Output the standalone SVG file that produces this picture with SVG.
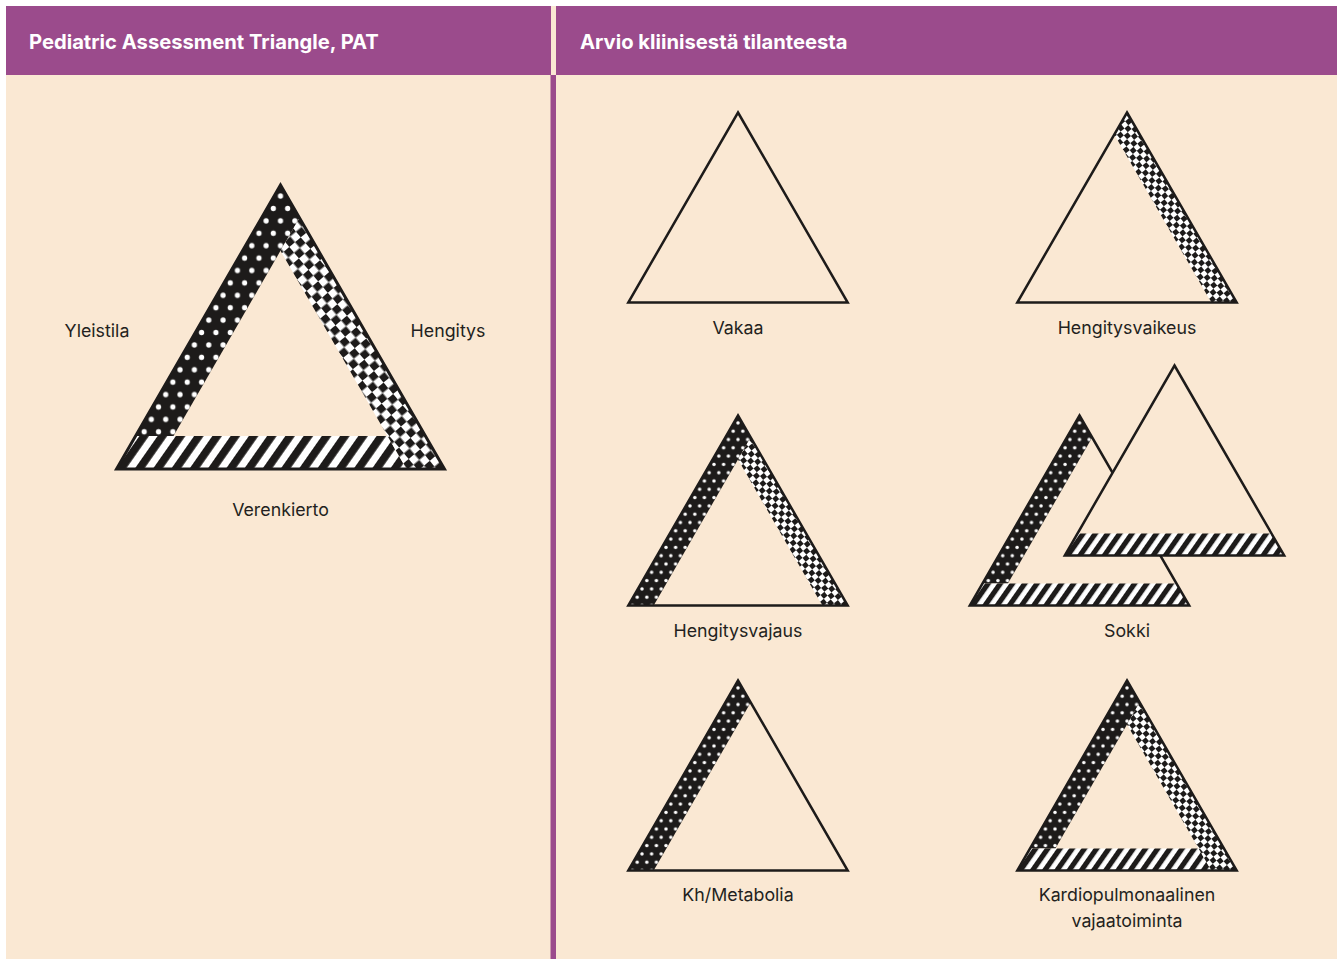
<svg xmlns="http://www.w3.org/2000/svg" width="1344" height="959" viewBox="0 0 1344 959">
<style>
.hdr{font-family:Inter,"Liberation Sans",sans-serif;font-weight:700;font-size:20.2px;fill:#ffffff}
.lbl{font-family:Inter,"Liberation Sans",sans-serif;font-size:17.8px;fill:#231f20;text-anchor:middle}
.outline{fill:none;stroke:#1d1b1a;stroke-width:2.5;stroke-linejoin:miter}
.big .outline{stroke-width:2}
.dots{fill:url(#pDots)}
.chk{fill:url(#pChk)}
.str{fill:url(#pStr)}
</style>
<defs>
<pattern id="pDots" patternUnits="userSpaceOnUse" width="9.6" height="16.6">
<rect width="9.6" height="16.6" fill="#1d1b1a"/>
<circle cx="0" cy="0" r="1.75" fill="#fff"/><circle cx="9.6" cy="0" r="1.75" fill="#fff"/>
<circle cx="0" cy="16.6" r="1.75" fill="#fff"/><circle cx="9.6" cy="16.6" r="1.75" fill="#fff"/>
<circle cx="4.8" cy="8.3" r="1.75" fill="#fff"/>
</pattern>
<pattern id="pChk" patternUnits="userSpaceOnUse" width="10" height="10" patternTransform="rotate(50)">
<rect width="10" height="10" fill="#fff"/>
<rect width="5" height="5" fill="#1d1b1a"/><rect x="5" y="5" width="5" height="5" fill="#1d1b1a"/>
</pattern>
<pattern id="pStr" patternUnits="userSpaceOnUse" width="10" height="10" patternTransform="rotate(35)">
<rect width="10" height="10" fill="#fff"/>
<rect width="5.2" height="10" fill="#1d1b1a"/>
</pattern>
</defs>
<rect width="1344" height="959" fill="#ffffff"/>
<rect x="6" y="6" width="1331" height="953" fill="#fae8d3"/>
<rect x="6" y="6" width="545" height="69" fill="#9b4b8c"/>
<rect x="556" y="6" width="781" height="69" fill="#9b4b8c"/>
<rect x="550.5" y="75" width="5.5" height="884" fill="#9b4b8c"/>
<text class="hdr" x="29" y="49">Pediatric Assessment Triangle, PAT</text>
<text class="hdr" x="580" y="49">Arvio kliinisestä tilanteesta</text>

<g id="pat" class="big" transform="translate(280.5,469) scale(1.4947)">
<polygon class="dots" points="-97,-22 0,-190 12.7,-168 0,-146 -71.6,-22"/>
<polygon class="str" points="-109.7,0 -97,-22 71.6,-22 84.3,0"/>
<polygon class="chk" points="12.7,-168 109.7,0 84.3,0 71.6,-22 0,-146"/>
<polygon class="outline" points="0,-190 109.7,0 -109.7,0"/>
</g>
<text class="lbl" x="97" y="337">Yleistila</text>
<text class="lbl" x="448" y="337">Hengitys</text>
<text class="lbl" x="280.5" y="516">Verenkierto</text>

<g id="vakaa" transform="translate(738,302.5)">
<polygon class="outline" points="0,-190 109.7,0 -109.7,0"/>
</g>
<text class="lbl" x="738" y="334">Vakaa</text>

<g id="hengitysvaikeus" transform="translate(1127,302.5)">
<polygon class="chk" points="-12.7,-168 0,-190 109.7,0 84.3,0"/>
<polygon class="outline" points="0,-190 109.7,0 -109.7,0"/>
</g>
<text class="lbl" x="1127" y="334">Hengitysvaikeus</text>

<g id="hengitysvajaus" transform="translate(738,605.5)">
<polygon class="dots" points="-109.7,0 0,-190 12.7,-168 -84.3,0"/>
<polygon class="chk" points="12.7,-168 109.7,0 84.3,0 0,-146"/>
<polygon class="outline" points="0,-190 109.7,0 -109.7,0"/>
</g>
<text class="lbl" x="738" y="637">Hengitysvajaus</text>

<g id="sokki">
<g transform="translate(1079.5,605.5)">
<polygon class="dots" points="-97,-22 0,-190 12.7,-168 0,-146 -71.6,-22"/>
<polygon class="str" points="-109.7,0 -97,-22 97,-22 109.7,0"/>
<polygon class="outline" points="0,-190 109.7,0 -109.7,0"/>
</g>
<g transform="translate(1174.5,555.5)">
<polygon points="0,-190 109.7,0 -109.7,0" fill="#fae8d3"/>
<polygon class="str" points="-109.7,0 -97,-22 97,-22 109.7,0"/>
<polygon class="outline" points="0,-190 109.7,0 -109.7,0"/>
</g>
</g>
<text class="lbl" x="1127" y="637">Sokki</text>

<g id="kh-metabolia" transform="translate(738,870.5)">
<polygon class="dots" points="-109.7,0 0,-190 12.7,-168 -84.3,0"/>
<polygon class="outline" points="0,-190 109.7,0 -109.7,0"/>
</g>
<text class="lbl" x="738" y="901">Kh/Metabolia</text>

<g id="kardiopulmonaalinen" transform="translate(1127,870.5)">
<polygon class="dots" points="-97,-22 0,-190 12.7,-168 0,-146 -71.6,-22"/>
<polygon class="str" points="-109.7,0 -97,-22 71.6,-22 84.3,0"/>
<polygon class="chk" points="12.7,-168 109.7,0 84.3,0 71.6,-22 0,-146"/>
<polygon class="outline" points="0,-190 109.7,0 -109.7,0"/>
</g>
<text class="lbl" x="1127" y="901">Kardiopulmonaalinen</text>
<text class="lbl" x="1127" y="927">vajaatoiminta</text>
</svg>
